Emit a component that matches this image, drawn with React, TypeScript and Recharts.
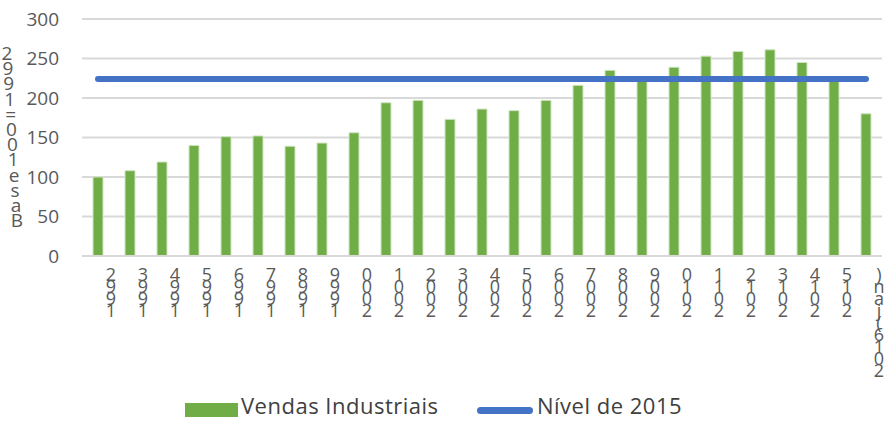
import React from 'react'
import { ComposedChart, Bar, Line, XAxis, YAxis, CartesianGrid } from 'recharts'

const anos = [
    '1992', '1993', '1994', '1995', '1996', '1997', '1998', '1999', '2000',
    '2001', '2002', '2003', '2004', '2005', '2006', '2007', '2008', '2009',
    '2010', '2011', '2012', '2013', '2014', '2015', '2016(jan)',
]
const vendasIndustriais = [
    100, 108, 119, 140, 151, 152, 139, 143, 156,
    194, 197, 173, 186, 184, 197, 216, 235, 223,
    239, 253, 259, 261, 245, 224, 180,
]
const nivel2015 = 224
const yTicks = [0, 50, 100, 150, 200, 250, 300]
const yTitle = 'Base 100 = 1992'

const data = anos.map((ano, i) => ({
    ano,
    vendas: vendasIndustriais[i],
    nivel: nivel2015,
}))

const FONT = '"Open Sans", Lato, sans-serif'
const GREY = '#595959'

// labels are stacked bottom-to-top, one upright character per line
const StackedTick = ({ x, y, payload }: any) => {
    const chars = String(payload.value).split('').reverse()
    const cx = x + 13
    return (
        <text textAnchor="middle" fontFamily={FONT} fontSize={18} fill={GREY}>
            {chars.map((c, i) => (
                <tspan key={i} x={cx} y={y + 17 + i * 12}>
                    {c}
                </tspan>
            ))}
        </text>
    )
}

const YTitle = () => {
    const chars = yTitle.replace(/ /g, '').split('').reverse()
    return (
        <text textAnchor="middle" fontFamily={FONT} fontSize={19} fill={GREY}>
            {chars.map((c, i) => (
                <tspan key={i} x={7 + i * 0.9} y={60 + i * 15.2}>
                    {c}
                </tspan>
            ))}
        </text>
    )
}

const legendText: React.CSSProperties = {
    position: 'absolute',
    top: -4,
    height: 23,
    lineHeight: '23px',
    letterSpacing: 0.5,
    whiteSpace: 'nowrap',
}

const LegendBox = () => (
    <div
        style={{
            position: 'absolute',
            top: 398,
            left: 0,
            width: 884,
            height: 23,
            fontFamily: FONT,
            fontSize: 22,
            color: '#404040',
        }}
    >
        <div style={{ position: 'absolute', left: 185, top: 5, width: 53, height: 14, background: '#70AD47' }} />
        <div style={{ ...legendText, left: 241 }}>Vendas Industriais</div>
        <div
            style={{
                position: 'absolute',
                left: 477,
                top: 9,
                width: 56,
                height: 7,
                borderRadius: 4,
                background: '#4472C4',
            }}
        />
        <div style={{ ...legendText, left: 537 }}>Nível de 2015</div>
    </div>
)

export default function App() {
    return (
        <div style={{ position: 'absolute', left: 0, top: 0, width: 884, height: 421, background: '#fff' }}>
            <ComposedChart
                width={884}
                height={421}
                data={data}
                margin={{ top: 19, right: 2, left: 0, bottom: 65 }}
            >
                <CartesianGrid vertical={false} stroke="#d9d9d9" strokeWidth={2} />
                <XAxis
                    dataKey="ano"
                    interval={0}
                    height={100}
                    tick={<StackedTick />}
                    tickLine={false}
                    axisLine={{ stroke: '#d9d9d9', strokeWidth: 2 }}
                />
                <YAxis
                    width={82}
                    domain={[0, 300]}
                    ticks={yTicks}
                    interval={0}
                    tickLine={false}
                    axisLine={false}
                    tickMargin={17}
                    tick={{ fontFamily: FONT, fontSize: 19, fill: GREY }}
                    label={{ content: () => <YTitle /> }}
                />
                <Bar
                    dataKey="vendas"
                    barSize={10}
                    fill="#70AD47"
                    stroke="#cfe5c0"
                    strokeWidth={1}
                    isAnimationActive={false}
                />
                <Line
                    dataKey="nivel"
                    stroke="#4472C4"
                    strokeWidth={6}
                    strokeLinecap="round"
                    dot={false}
                    activeDot={false}
                    isAnimationActive={false}
                />
            </ComposedChart>
            <LegendBox />
        </div>
    )
}
